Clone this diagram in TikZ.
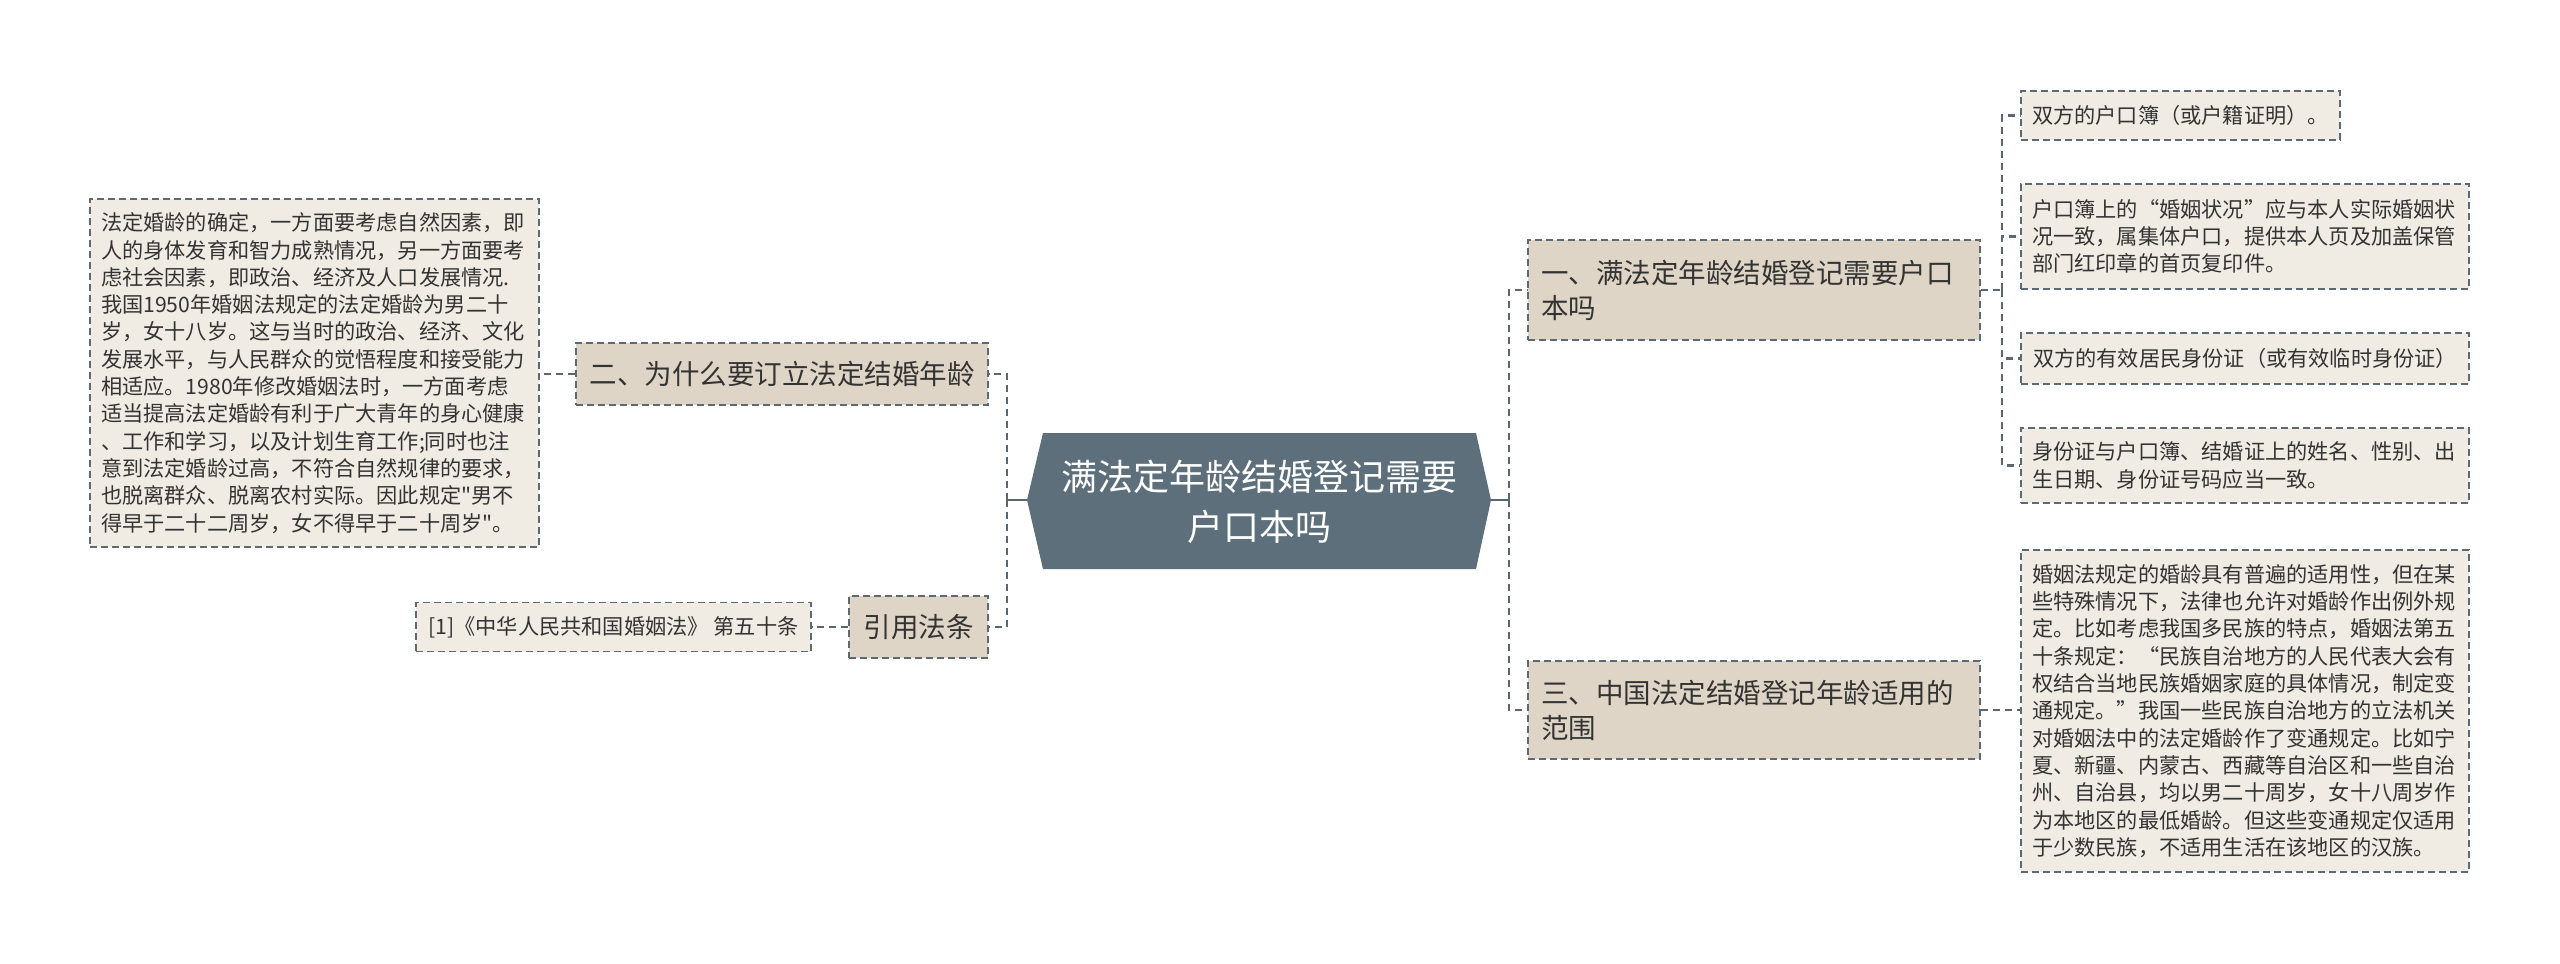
\documentclass[tikz,border=0pt]{standalone}
\usepackage{fontspec}
\setmainfont{Noto Sans CJK SC}[Ligatures=TeXOff]
\definecolor{centc}{HTML}{5D6F7B}
\definecolor{titlec}{HTML}{DFD5C6}
\definecolor{leafc}{HTML}{F0ECE4}
\definecolor{bordc}{HTML}{5E6A73}
\definecolor{connc}{HTML}{5A6770}
\definecolor{textc}{HTML}{333333}
\begin{document}
\begin{tikzpicture}[x=1pt,y=-1pt,
  box/.style={draw=bordc, line width=1.8pt, dash pattern=on 7pt off 4pt, inner xsep=11pt, inner ysep=0pt, text=textc, align=left},
  leafbox/.style={box, fill=leafc, font=\fontsize{21.2}{27.3}\selectfont},
  titlebox/.style={box, fill=titlec, font=\fontsize{27.5}{35}\selectfont},
  conn/.style={draw=connc, line width=2.5pt, dash pattern=on 7pt off 5pt},
  solidconn/.style={draw=connc, line width=2.5pt}]
\fill[white] (0,0) rectangle (2560,964);
\useasboundingbox (0,0) rectangle (2560,964);
% central node
\fill[centc] (1043,433) -- (1476,433) -- (1491,500) -- (1476,569) -- (1043,569) -- (1027,500) -- cycle;
\node[text=white, align=center, font=\fontsize{36}{50}\selectfont] (c) at (1259,502) {满法定年龄结婚登记需要\\户口本吗};
\coordinate (cL) at (1027,500);
\coordinate (cR) at (1491,500);
\coordinate (tl) at (1007,500);
\coordinate (tr) at (1509,500);
% left side
\node[leafbox, minimum width=449, minimum height=348, text width=427] (lt) at (314.5,373) {法定婚龄的确定，一方面要考虑自然因素，即\\人的身体发育和智力成熟情况，另一方面要考\\虑社会因素，即政治、经济及人口发展情况.\\我国1950年婚姻法规定的法定婚龄为男二十\\岁，女十八岁。这与当时的政治、经济、文化\\发展水平，与人民群众的觉悟程度和接受能力\\相适应。1980年修改婚姻法时，一方面考虑\\适当提高法定婚龄有利于广大青年的身心健康\\、工作和学习，以及计划生育工作;同时也注\\意到法定婚龄过高，不符合自然规律的要求，\\也脱离群众、脱离农村实际。因此规定"男不\\得早于二十二周岁，女不得早于二十周岁"。};
\node[titlebox, minimum width=412, minimum height=62] (two) at (782,374) {二、为什么要订立法定结婚年龄};
\node[titlebox, minimum width=139, minimum height=62] (cite) at (918.5,627) {引用法条};
\node[leafbox, minimum width=395, minimum height=49] (ref) at (613.5,627) {[1]《中华人民共和国婚姻法》 第五十条};
% right side
\node[titlebox, minimum width=452, minimum height=100, text width=426] (one) at (1754,290) {一、满法定年龄结婚登记需要户口\\本吗};
\node[titlebox, minimum width=452, minimum height=98, text width=426] (three) at (1754,710) {三、中国法定结婚登记年龄适用的\\范围};
\coordinate (t1) at (2002,290);
\node[leafbox, minimum width=319, minimum height=49] (a1) at (2180.5,115.5) {双方的户口簿（或户籍证明）。};
\node[leafbox, minimum width=448, minimum height=105, text width=426] (a2) at (2245,236.5) {户口簿上的“婚姻状况”应与本人实际婚姻状\\况一致，属集体户口，提供本人页及加盖保管\\部门红印章的首页复印件。};
\node[leafbox, minimum width=448, minimum height=51] (a3) at (2245,358.5) {双方的有效居民身份证（或有效临时身份证）};
\node[leafbox, minimum width=448, minimum height=75, text width=426] (a4) at (2245,465.5) {身份证与户口簿、结婚证上的姓名、性别、出\\生日期、身份证号码应当一致。};
\node[leafbox, minimum width=448, minimum height=322, text width=426] (b1) at (2245,711) {婚姻法规定的婚龄具有普遍的适用性，但在某\\些特殊情况下，法律也允许对婚龄作出例外规\\定。比如考虑我国多民族的特点，婚姻法第五\\十条规定：“民族自治地方的人民代表大会有\\权结合当地民族婚姻家庭的具体情况，制定变\\通规定。”我国一些民族自治地方的立法机关\\对婚姻法中的法定婚龄作了变通规定。比如宁\\夏、新疆、内蒙古、西藏等自治区和一些自治\\州、自治县，均以男二十周岁，女十八周岁作\\为本地区的最低婚龄。但这些变通规定仅适用\\于少数民族，不适用生活在该地区的汉族。};
% connectors
\draw[solidconn] (cL) -- (tl);
\draw[solidconn] (cR) -- (tr);
\draw[conn] (tl) |- (two.east);
\draw[conn] (tl) |- (cite.east);
\draw[conn] (two.west) -- (two.west -| lt.east);
\draw[conn] (cite.west) -- (cite.west -| ref.east);
\draw[conn] (tr) |- (one.west);
\draw[conn] (tr) |- (three.west);
\draw[conn] (one.east) -- (t1);
\draw[conn] (t1) |- (a1.west);
\draw[conn] (t1) |- (a2.west);
\draw[conn] (t1) |- (a3.west);
\draw[conn] (t1) |- (a4.west);
\draw[conn] (three.east) -- (three.east -| b1.west);
\end{tikzpicture}
\end{document}
